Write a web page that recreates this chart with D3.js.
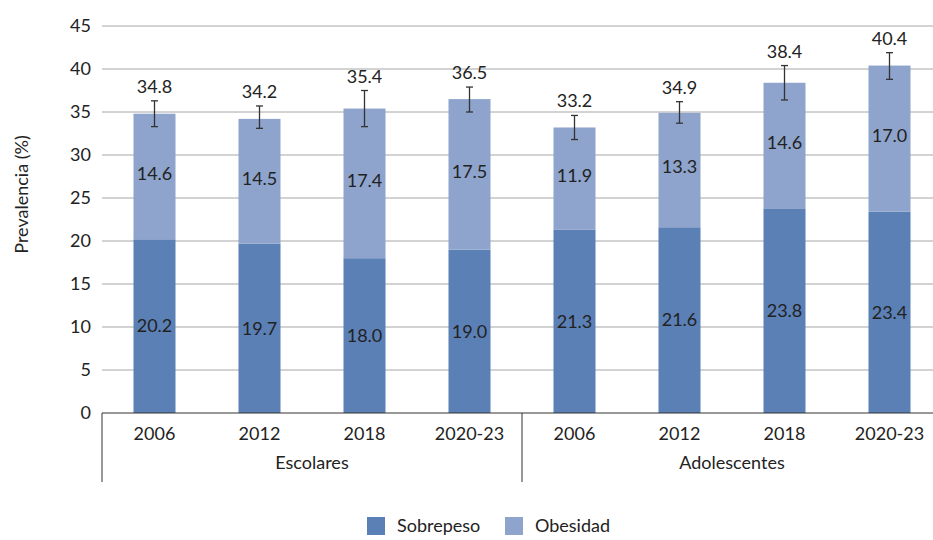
<!DOCTYPE html>
<html>
<head>
<meta charset="utf-8">
<script src="https://cdn.jsdelivr.net/npm/d3@7"></script>
<style>
  body { margin: 0; background: #fff; }
  text { font-family: Lato, "Open Sans", sans-serif; fill: #222; }
</style>
</head>
<body>
<div id="chart"></div>
<script>
// datos
var years = ['2006', '2012', '2018', '2020-23', '2006', '2012', '2018', '2020-23'];
var groups = ['Escolares', 'Escolares', 'Escolares', 'Escolares', 'Adolescentes', 'Adolescentes', 'Adolescentes', 'Adolescentes'];
var sobrepeso = [20.2, 19.7, 18.0, 19.0, 21.3, 21.6, 23.8, 23.4];
var obesidad = [14.6, 14.5, 17.4, 17.5, 11.9, 13.3, 14.6, 17.0];
var totals = [34.8, 34.2, 35.4, 36.5, 33.2, 34.9, 38.4, 40.4];
var errLow = [33.3, 33.1, 33.3, 35.0, 31.8, 33.7, 36.4, 38.8];
var errHigh = [36.3, 35.7, 37.5, 37.9, 34.6, 36.2, 40.4, 41.9];
var yTicks = [0, 5, 10, 15, 20, 25, 30, 35, 40, 45];

var width = 933, height = 540;
var plotLeft = 102, plotRight = 942, plotTop = 26, plotBottom = 413;

var svg = d3.select('#chart').append('svg')
    .attr('width', width)
    .attr('height', height);

var x = d3.scaleBand()
    .domain(d3.range(years.length))
    .range([plotLeft, plotRight])
    .paddingInner(0.6)
    .paddingOuter(0.3);

var y = d3.scaleLinear()
    .domain([0, 45])
    .range([plotBottom, plotTop]);

// grid
svg.append('g')
    .selectAll('line')
    .data(yTicks.slice(1))
    .enter().append('line')
    .attr('x1', plotLeft)
    .attr('x2', plotRight)
    .attr('y1', d => y(d))
    .attr('y2', d => y(d))
    .attr('stroke', '#a6a6a6')
    .attr('stroke-width', 1);

// eje y labels
svg.append('g')
    .selectAll('text')
    .data(yTicks)
    .enter().append('text')
    .attr('x', 91)
    .attr('y', d => y(d))
    .attr('dy', '0.35em')
    .attr('text-anchor', 'end')
    .style('font-size', '18px')
    .text(d => d);

svg.append('text')
    .attr('transform', 'translate(28,' + ((plotTop + plotBottom) / 2 - 25) + ') rotate(-90)')
    .attr('text-anchor', 'middle')
    .style('font-size', '18px')
    .text('Prevalencia (%)');

// barras
var idx = d3.range(years.length);

svg.append('g')
    .selectAll('rect')
    .data(idx)
    .enter().append('rect')
    .attr('x', i => x(i))
    .attr('width', x.bandwidth())
    .attr('y', i => y(sobrepeso[i]))
    .attr('height', i => y(0) - y(sobrepeso[i]))
    .attr('fill', '#5b80b6');

svg.append('g')
    .selectAll('rect')
    .data(idx)
    .enter().append('rect')
    .attr('x', i => x(i))
    .attr('width', x.bandwidth())
    .attr('y', i => y(sobrepeso[i] + obesidad[i]))
    .attr('height', i => y(sobrepeso[i]) - y(sobrepeso[i] + obesidad[i]))
    .attr('fill', '#8ea4cc');

// etiquetas dentro
svg.append('g')
    .selectAll('text')
    .data(idx)
    .enter().append('text')
    .attr('x', i => x(i) + x.bandwidth() / 2)
    .attr('y', i => y(sobrepeso[i] / 2))
    .attr('dy', '0.35em')
    .attr('text-anchor', 'middle')
    .style('font-size', '18px')
    .text(i => sobrepeso[i].toFixed(1));

svg.append('g')
    .selectAll('text')
    .data(idx)
    .enter().append('text')
    .attr('x', i => x(i) + x.bandwidth() / 2)
    .attr('y', i => y(sobrepeso[i] + obesidad[i] / 2) - 3)
    .attr('dy', '0.35em')
    .attr('text-anchor', 'middle')
    .style('font-size', '18px')
    .text(i => obesidad[i].toFixed(1));

// barras de error
var eb = svg.append('g')
    .attr('stroke', '#333')
    .attr('stroke-width', 1.3);

eb.selectAll('.v')
    .data(idx)
    .enter().append('line')
    .attr('x1', i => x(i) + x.bandwidth() / 2)
    .attr('x2', i => x(i) + x.bandwidth() / 2)
    .attr('y1', i => y(errLow[i]))
    .attr('y2', i => y(errHigh[i]));

eb.selectAll('.t')
    .data(idx)
    .enter().append('line')
    .attr('x1', i => x(i) + x.bandwidth() / 2 - 3.5)
    .attr('x2', i => x(i) + x.bandwidth() / 2 + 3.5)
    .attr('y1', i => y(errHigh[i]))
    .attr('y2', i => y(errHigh[i]));

eb.selectAll('.b')
    .data(idx)
    .enter().append('line')
    .attr('x1', i => x(i) + x.bandwidth() / 2 - 3.5)
    .attr('x2', i => x(i) + x.bandwidth() / 2 + 3.5)
    .attr('y1', i => y(errLow[i]))
    .attr('y2', i => y(errLow[i]));

// totales
svg.append('g')
    .selectAll('text')
    .data(idx)
    .enter().append('text')
    .attr('x', i => x(i) + x.bandwidth() / 2)
    .attr('y', i => y(errHigh[i]) - 8)
    .attr('text-anchor', 'middle')
    .style('font-size', '18px')
    .text(i => totals[i].toFixed(1));

// eje x
svg.append('line')
    .attr('x1', plotLeft).attr('x2', plotRight)
    .attr('y1', plotBottom).attr('y2', plotBottom)
    .attr('stroke', '#333').attr('stroke-width', 1);

[plotLeft, (plotLeft + plotRight) / 2, plotRight].forEach(function (px) {
    svg.append('line')
        .attr('x1', px).attr('x2', px)
        .attr('y1', plotBottom).attr('y2', 482)
        .attr('stroke', '#333').attr('stroke-width', 1);
});

svg.append('g')
    .selectAll('text')
    .data(idx)
    .enter().append('text')
    .attr('x', i => x(i) + x.bandwidth() / 2)
    .attr('y', 440)
    .attr('text-anchor', 'middle')
    .style('font-size', '18px')
    .text(i => years[i]);

var groupNames = Array.from(new Set(groups));
svg.append('g')
    .selectAll('text')
    .data(groupNames)
    .enter().append('text')
    .attr('x', g => {
        var ii = idx.filter(i => groups[i] === g);
        return (x(ii[0]) + x(ii[ii.length - 1]) + x.bandwidth()) / 2;
    })
    .attr('y', 469)
    .attr('text-anchor', 'middle')
    .style('font-size', '18px')
    .text(g => g);

// leyenda
var legend = [
    { name: 'Sobrepeso', color: '#5b80b6', x: 367 },
    { name: 'Obesidad', color: '#8ea4cc', x: 505 }
];
var lg = svg.append('g').selectAll('g').data(legend).enter().append('g')
    .attr('transform', d => 'translate(' + d.x + ',517)');
lg.append('rect').attr('width', 18).attr('height', 18).attr('fill', d => d.color);
lg.append('text').attr('x', 30).attr('y', 9).attr('dy', '0.35em')
    .style('font-size', '18px').text(d => d.name);
</script>
</body>
</html>
